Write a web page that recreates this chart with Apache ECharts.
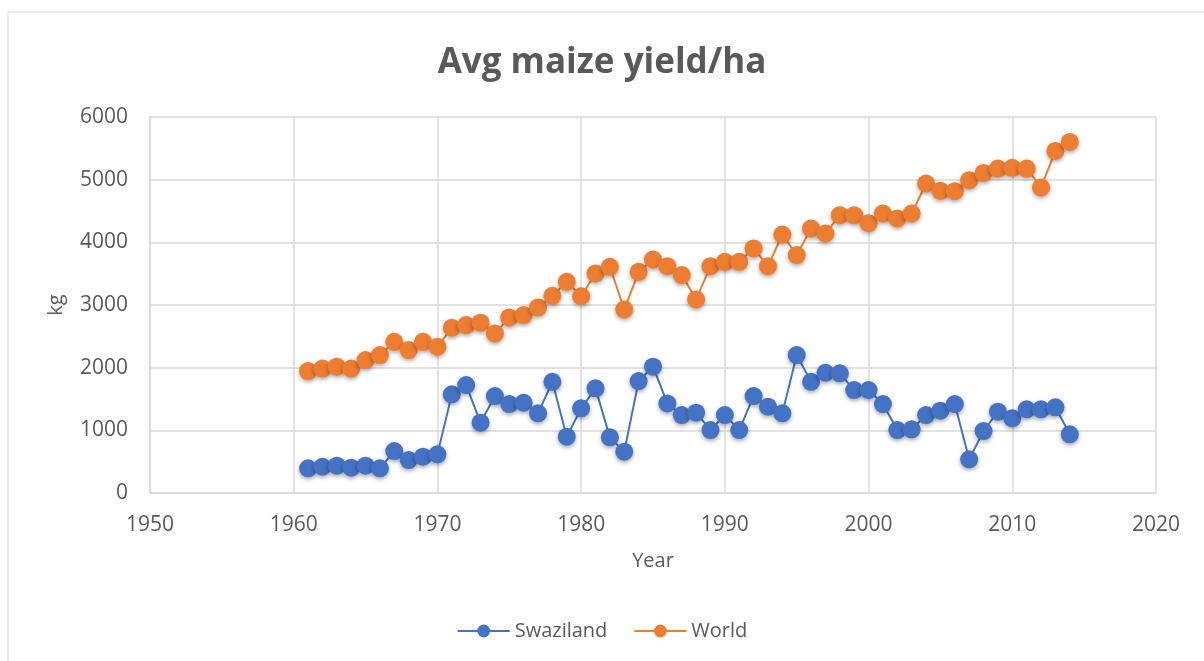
<!DOCTYPE html>
<html style="height: 100%">
   <head>
       <meta charset="utf-8">
   </head>
   <body style="height: 100%; margin: 0; background: #fff">
       <div id="container" style="width: 1204px; height: 661px"></div>
       <script type="text/javascript" src="https://cdn.jsdelivr.net/npm/echarts@6/dist/echarts.min.js"></script>
       <script type="text/javascript">
// years 1961 - 2014
var years = [1961,1962,1963,1964,1965,1966,1967,1968,1969,1970,
             1971,1972,1973,1974,1975,1976,1977,1978,1979,1980,
             1981,1982,1983,1984,1985,1986,1987,1988,1989,1990,
             1991,1992,1993,1994,1995,1996,1997,1998,1999,2000,
             2001,2002,2003,2004,2005,2006,2007,2008,2009,2010,
             2011,2012,2013,2014];

var swaziland = [394,419,436,404,436,394,670,526,579,617,
                 1574,1722,1122,1547,1419,1440,1271,1775,898,1351,
                 1670,888,659,1786,2015,1430,1244,1281,1005,1244,
                 1005,1547,1377,1271,2201,1775,1919,1909,1643,1643,
                 1419,1005,1016,1244,1313,1419,537,989,1297,1191,
                 1335,1335,1367,936];

var world = [1945,1985,2015,1985,2121,2201,2413,2281,2413,2334,
             2637,2679,2717,2547,2802,2839,2961,3147,3370,3140,
             3503,3610,2929,3530,3727,3620,3477,3089,3620,3689,
             3689,3902,3620,4125,3796,4221,4141,4434,4434,4305,
             4460,4381,4460,4939,4822,4816,4992,5108,5178,5189,
             5178,4876,5459,5603];

function pairs(vals) {
    return years.map(function (y, i) { return [y, vals[i]]; });
}

var dom = document.getElementById("container");
var myChart = echarts.init(dom);
var textColor = '#595959';
var gridColor = '#d9d9d9';
var font = 'Open Sans';

var option = {
    backgroundColor: '#fff',
    animation: false,
    graphic: [{
        type: 'rect',
        shape: {x: 8, y: 12, width: 1210, height: 680},
        style: {fill: 'none', stroke: gridColor, lineWidth: 1}
    }],
    title: {
        text: 'Avg maize yield/ha',
        left: 'center',
        top: 41,
        textStyle: {color: textColor, fontSize: 35, fontWeight: 'bold', fontFamily: font}
    },
    legend: {
        bottom: 15,
        left: 'center',
        itemWidth: 52,
        itemHeight: 16,
        itemGap: 26,
        textStyle: {color: textColor, fontSize: 20, fontFamily: font},
        data: ['Swaziland', 'World']
    },
    grid: {left: 150, right: 48, top: 117, bottom: 168},
    xAxis: {
        type: 'value',
        min: 1950, max: 2020, interval: 10,
        name: 'Year',
        nameLocation: 'middle',
        nameGap: 58,
        nameTextStyle: {color: textColor, fontSize: 20, fontFamily: font},
        axisLine: {show: true, lineStyle: {color: gridColor, width: 1.5}},
        axisTick: {show: false},
        splitLine: {show: true, lineStyle: {color: gridColor, width: 1.5}},
        axisLabel: {color: textColor, fontSize: 21, fontFamily: font, margin: 22,
                    formatter: function (v) { return String(v); }}
    },
    yAxis: {
        type: 'value',
        min: 0, max: 6000, interval: 1000,
        name: 'kg',
        nameLocation: 'middle',
        nameRotate: 90,
        nameGap: 84,
        nameTextStyle: {color: textColor, fontSize: 20, fontFamily: font},
        axisLine: {show: true, lineStyle: {color: gridColor, width: 1.5}},
        axisTick: {show: false},
        splitLine: {show: true, lineStyle: {color: gridColor, width: 1.5}},
        axisLabel: {color: textColor, fontSize: 21, fontFamily: font, margin: 22,
                    formatter: function (v) { return String(v); }}
    },
    series: [{
        name: 'Swaziland',
        type: 'line',
        symbol: 'circle',
        symbolSize: 18,
        data: pairs(swaziland),
        lineStyle: {color: '#4472C4', width: 2},
        itemStyle: {color: '#4472C4', shadowBlur: 4, shadowColor: 'rgba(0,0,0,0.35)', shadowOffsetY: 2}
    }, {
        name: 'World',
        type: 'line',
        symbol: 'circle',
        symbolSize: 18,
        data: pairs(world),
        lineStyle: {color: '#ED7D31', width: 2},
        itemStyle: {color: '#ED7D31', shadowBlur: 4, shadowColor: 'rgba(0,0,0,0.35)', shadowOffsetY: 2}
    }]
};

if (option && typeof option === "object") {
    myChart.setOption(option, true);
}
       </script>
   </body>
</html>
